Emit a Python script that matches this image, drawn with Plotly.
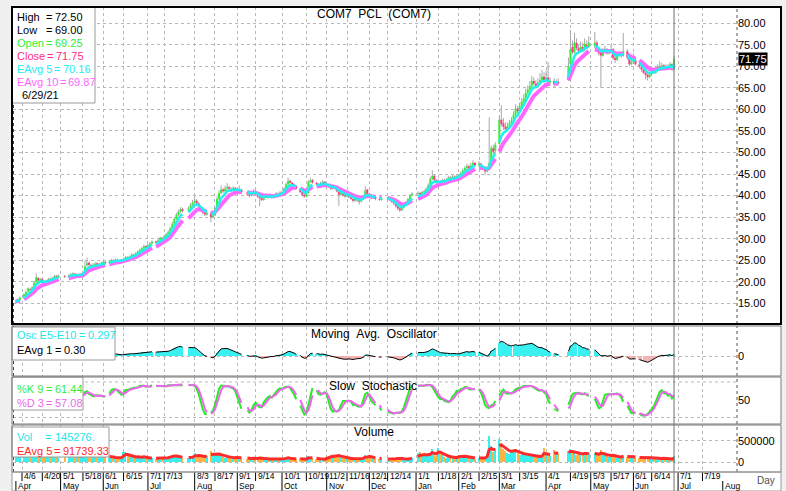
import pandas as pd
import plotly.graph_objects as go

W, H = 786, 491
def fx(px): return px / W
def fy(py): return 1 - py / H

# ---------------- data (SET: COM7, 1 Apr 2020 - 29 Jun 2021) ----------------
holidays = ['2020-04-06','2020-05-01','2020-05-04','2020-05-06','2020-06-03','2020-07-06','2020-07-27',
            '2020-07-28','2020-08-12','2020-09-04','2020-09-07','2020-10-13','2020-10-23','2020-12-07',
            '2020-12-10','2020-12-11','2020-12-31','2021-01-01','2021-02-12','2021-02-26','2021-04-06',
            '2021-04-12','2021-04-13','2021-04-14','2021-04-15','2021-05-03','2021-05-04','2021-05-26','2021-06-03']

close = [
 15.4,15.9,16.3,17.1,17.6,18.4,18.1,18.7,19.8,21.0,20.3,20.6,20.2,19.8,20.1,20.6,20.4,20.9,21.3,21.0,21.4,
 21.1,21.4,21.7,21.9,21.5,21.8,21.4,21.7,22.0,23.6,24.3,23.9,23.7,23.9,24.2,23.8,24.0,24.3,
 24.6,24.3,24.7,25.0,24.8,25.1,24.9,24.6,25.0,25.3,25.7,25.5,25.9,26.3,26.1,26.6,27.0,27.4,27.8,28.2,28.0,
 28.5,28.9,29.3,29.1,29.6,30.2,30.0,30.5,31.0,31.6,32.4,33.5,34.6,35.5,36.2,36.8,36.4,37.0,37.8,38.4,
 38.8,38.2,37.4,36.6,36.0,35.6,36.0,35.0,35.4,37.0,39.2,40.6,41.4,41.0,41.6,42.0,41.6,41.2,41.8,41.4,
 41.0,41.4,40.8,40.3,40.0,40.6,41.0,40.6,39.8,39.4,39.0,39.6,40.1,39.6,40.0,39.5,40.0,40.4,40.2,40.7,
 40.8,41.6,42.6,43.4,43.0,42.6,42.2,41.6,40.8,40.2,39.8,40.6,43.2,43.6,43.0,42.6,42.2,42.8,43.2,42.6,
 42.4,42.0,41.6,42.0,41.6,41.0,40.2,40.6,40.0,39.8,40.2,39.6,39.2,38.8,39.3,38.9,38.6,39.2,39.8,41.2,40.4,
 39.8,39.4,39.6,39.2,39.0,39.3,39.4,39.0,38.6,38.2,37.6,37.0,36.6,37.2,37.8,38.4,39.2,40.0,40.4,
 40.6,40.2,40.8,41.0,41.6,42.4,43.8,44.6,43.6,43.0,43.4,43.0,43.6,43.2,43.8,44.2,43.8,44.4,44.0,44.6,
 44.4,45.2,45.8,46.4,46.8,46.2,47.0,47.6,47.0,47.4,46.8,46.2,45.6,46.0,47.6,51.0,50.2,51.8,
 57.6,56.6,56.0,55.4,56.2,56.8,57.4,58.8,60.2,59.6,60.8,61.8,62.6,63.8,64.6,65.4,66.6,66.0,65.4,66.2,66.8,67.6,66.8,
 67.4,66.2,66.6,65.8,66.4,66.0,70.0,74.0,73.25,75.5,74.25,73.5,74.5,73.75,75.25,74.5,75.5,
 75.5,74.0,73.0,72.5,73.5,74.0,73.0,73.5,74.0,72.0,71.5,72.5,73.0,72.5,73.5,72.0,70.5,71.0,
 71.5,70.5,70.0,69.25,68.5,68.0,67.5,68.25,69.0,68.5,69.5,70.0,69.75,70.25,69.5,70.0,69.75,70.5,69.25,71.75]

open_ = [
 15.2,15.5,15.8,16.5,17.0,17.7,18.3,18.2,18.8,19.9,20.9,20.2,20.6,20.1,19.8,20.2,20.7,20.4,20.8,21.4,21.0,
 21.3,21.1,21.4,21.7,21.9,21.5,21.8,21.4,21.7,22.1,23.8,24.4,23.9,23.7,23.9,24.3,23.8,24.0,
 24.3,24.6,24.4,24.7,25.0,24.8,25.1,24.9,24.6,25.0,25.3,25.7,25.5,25.9,26.3,26.1,26.6,27.0,27.4,27.8,28.3,
 28.1,28.5,28.9,29.4,29.1,29.6,30.2,30.0,30.5,31.0,31.6,32.4,33.5,34.6,35.5,36.2,36.9,36.5,37.0,37.8,
 38.4,38.8,38.2,37.4,36.6,36.0,35.6,36.0,35.0,35.4,37.0,39.2,40.6,41.4,41.0,41.6,42.0,41.6,41.2,41.8,
 41.4,41.0,41.4,40.8,40.3,40.0,40.6,41.0,40.6,39.8,39.4,39.0,39.6,40.1,39.6,40.0,39.5,40.0,40.4,40.2,
 40.6,40.8,41.6,42.6,43.4,43.0,42.6,42.2,41.6,40.8,40.2,39.8,40.6,43.2,43.6,43.0,42.6,42.2,42.8,43.2,
 42.6,42.4,42.0,41.6,42.0,41.6,41.0,40.2,40.6,40.0,39.8,40.2,39.6,39.2,38.8,39.3,38.9,38.6,39.2,39.8,41.4,
 40.4,39.8,39.4,39.6,39.2,39.0,39.3,39.4,39.0,38.6,38.2,37.6,37.0,36.6,37.2,37.8,38.4,39.2,40.0,
 40.4,40.6,40.2,40.8,41.0,41.6,42.4,43.8,44.6,43.6,43.0,43.4,43.0,43.6,43.2,43.8,44.2,43.8,44.4,44.0,
 44.6,44.4,45.2,45.8,46.4,46.8,46.2,47.0,47.6,47.0,47.4,46.8,46.2,45.6,46.0,47.8,51.0,50.4,
 52.0,57.6,56.8,56.0,55.4,56.2,56.8,57.4,58.8,60.2,59.6,60.8,61.8,62.6,63.8,64.6,65.4,66.6,66.0,65.4,66.2,66.8,67.6,
 66.8,67.4,66.2,66.6,65.8,66.4,67.0,70.5,74.5,73.25,75.5,74.25,73.5,74.5,73.75,75.0,74.5,
 74.75,75.5,74.0,73.25,72.5,73.5,74.0,73.0,73.5,74.0,72.0,71.5,72.5,73.0,72.5,73.5,72.0,70.5,
 71.0,71.5,70.5,70.0,69.25,68.5,68.0,67.5,68.25,69.0,68.5,69.5,70.0,69.75,70.25,69.5,70.0,69.75,70.5,69.25]

high = [
 15.7,16.1,16.6,17.3,17.9,18.7,18.6,18.9,20.1,21.9,21.0,20.9,20.8,20.3,20.4,20.9,20.9,21.1,21.6,21.5,21.7,
 21.6,21.7,22.0,22.2,22.0,22.0,21.9,21.9,22.2,24.9,25.6,24.7,24.2,24.3,24.6,24.5,24.4,24.7,
 24.9,24.8,24.9,25.3,25.2,25.4,25.3,25.0,25.2,25.6,26.0,25.9,26.1,26.6,26.5,26.9,27.3,27.7,28.1,28.6,28.5,
 28.8,29.2,29.6,29.5,29.9,30.5,30.4,30.8,31.3,31.9,32.8,33.9,35.0,36.0,36.7,37.3,37.2,37.5,38.3,39.0,
 40.0,39.2,38.5,37.6,36.9,36.4,36.4,36.3,35.8,37.4,39.8,41.2,42.4,41.8,42.3,42.9,42.3,41.9,42.2,42.0,
 41.8,42.3,41.6,41.1,40.6,41.0,41.5,41.3,40.8,40.1,39.6,39.9,40.5,40.3,40.4,40.3,40.3,40.8,40.7,41.0,
 41.2,41.9,43.0,44.2,43.7,43.2,42.8,42.4,41.8,41.1,40.6,40.9,43.6,44.2,43.9,43.2,42.9,43.2,43.6,43.4,
 42.9,42.7,42.3,42.3,42.2,41.8,41.2,40.9,40.8,40.3,40.5,40.4,39.8,39.4,39.6,39.6,39.2,39.5,40.1,42.2,41.6,
 40.6,40.2,39.9,39.8,39.5,39.6,39.7,39.6,39.2,38.8,38.4,37.9,37.3,37.6,38.1,38.7,39.5,40.4,40.8,
 41.0,40.9,41.1,41.4,41.9,42.8,44.4,45.9,44.8,43.8,43.8,43.6,43.9,43.9,44.1,44.6,44.5,44.8,44.7,45.0,
 45.0,45.6,46.3,46.8,47.4,47.2,47.6,48.2,47.8,48.0,47.6,47.0,46.4,46.4,58.2,51.6,51.8,52.4,
 58.5,61.0,58.0,57.0,57.0,57.6,58.2,59.6,61.2,60.8,61.6,62.6,63.6,64.8,65.6,66.6,67.8,67.4,66.8,67.2,68.4,69.2,68.6,
 69.0,71.0,67.4,67.2,67.0,67.2,72.0,78.5,76.0,77.75,76.5,75.0,75.75,75.5,76.5,76.0,77.0,
 78.0,76.0,74.5,74.0,74.25,74.75,74.25,74.0,75.0,74.25,72.5,73.0,73.5,73.5,77.75,74.0,72.5,71.75,
 73.0,72.0,71.0,70.25,69.75,69.0,68.5,68.75,69.5,69.25,70.0,70.5,71.25,70.75,70.5,70.5,70.5,71.0,70.75,72.5]

low = [
 15.0,15.3,15.6,16.3,16.8,17.5,17.8,18.0,18.6,19.7,20.0,20.0,20.0,19.5,19.6,20.0,20.2,20.2,20.6,20.8,20.8,
 20.9,21.0,21.3,21.5,21.3,21.4,21.2,21.3,21.6,22.0,23.5,23.6,23.4,23.5,23.7,23.6,23.6,23.8,
 24.1,24.1,24.2,24.5,24.6,24.6,24.7,24.4,24.4,24.8,25.1,25.3,25.3,25.7,25.9,25.9,26.4,26.8,27.2,27.6,27.8,
 27.9,28.3,28.7,28.9,28.9,29.4,29.8,29.8,30.3,30.8,31.4,32.2,33.2,34.3,35.2,35.9,36.1,36.2,36.8,37.5,
 38.0,37.9,37.1,36.3,35.7,35.3,35.3,33.8,34.8,35.2,36.8,38.9,40.3,40.6,40.8,41.3,41.2,40.8,40.9,41.0,
 40.6,40.8,40.5,39.9,39.6,39.8,40.3,40.3,39.5,37.5,38.7,38.8,39.4,39.3,39.4,39.2,39.3,39.8,40.0,40.0,
 40.4,40.6,41.4,42.4,42.8,42.4,42.0,41.4,40.6,39.8,39.5,39.6,40.4,42.9,42.8,42.4,41.9,42.0,42.6,42.3,
 42.1,41.8,41.3,41.4,41.4,40.8,37.6,40.0,39.8,39.5,39.6,39.4,39.0,38.4,38.6,38.6,37.9,38.4,39.0,39.6,40.2,
 39.6,39.2,39.2,38.9,38.8,38.8,39.0,38.8,38.3,37.9,37.2,36.6,36.2,36.4,37.0,37.6,38.2,39.0,39.8,
 40.0,39.9,40.0,40.5,40.8,41.4,42.2,43.6,43.4,42.8,42.8,42.7,42.8,43.0,43.0,43.6,43.6,43.6,43.8,43.8,
 44.0,44.2,45.0,45.5,46.2,45.9,46.0,46.8,46.8,46.8,46.5,45.9,44.8,45.4,45.8,47.6,49.6,50.0,
 51.8,56.0,55.2,54.6,55.0,55.8,56.4,57.0,58.4,59.0,59.4,60.4,61.4,62.2,63.4,64.2,65.0,65.6,64.8,65.0,65.8,66.4,66.2,
 66.4,65.8,65.8,65.2,65.6,65.6,66.6,70.0,72.75,73.0,73.75,73.0,73.25,73.25,73.5,74.0,74.25,
 74.25,73.75,72.5,65.0,72.25,73.0,72.75,72.75,73.25,71.5,70.75,71.25,72.25,72.0,72.25,71.5,70.0,70.25,
 70.5,70.25,69.5,68.75,68.25,67.0,66.75,67.25,68.0,68.25,68.25,69.25,69.5,69.5,69.25,69.25,69.5,69.5,69.0,69.0]

volume_k = [
 260,240,210,280,230,300,220,250,310,380,270,230,210,190,180,220,200,190,230,210,180,
 170,160,150,180,140,150,130,140,160,320,290,210,170,160,180,150,140,170,
 150,120,110,140,100,90,120,80,110,230,250,180,140,120,90,110,130,100,120,140,90,
 80,90,110,70,90,100,80,90,110,120,150,180,160,140,120,110,90,100,130,110,
 220,180,150,140,120,130,150,260,200,180,210,190,150,120,110,130,100,90,110,100,
 110,130,90,80,70,90,100,80,90,120,80,70,90,60,70,80,60,70,80,90,
 70,90,110,130,80,70,60,70,90,80,60,70,150,130,90,70,60,70,80,60,
 120,150,170,160,140,180,160,120,100,90,80,90,70,80,70,60,80,90,110,180,130,
 160,110,90,80,70,80,60,70,80,70,90,100,110,80,70,60,80,100,90,
 210,240,180,200,150,170,220,300,200,150,330,220,160,130,110,120,100,110,90,100,
 170,160,150,140,120,100,90,110,80,100,90,80,110,200,620,380,250,300,
 540,450,300,260,220,200,240,260,300,220,180,200,160,170,150,140,160,130,120,140,130,150,330,
 180,200,150,280,220,200,260,300,240,220,180,190,200,170,230,190,210,
 220,180,150,280,200,160,140,130,150,170,130,120,110,100,180,120,140,110,
 130,110,90,100,80,90,120,100,110,90,80,100,90,80,110,90,80,70,60,145.276]

day_ticks = ['2020-04-06','2020-04-20','2020-05-01','2020-05-18','2020-06-01','2020-06-15','2020-07-01',
             '2020-07-13','2020-08-03','2020-08-17','2020-09-01','2020-09-14','2020-10-01','2020-10-19',
             '2020-11-02','2020-11-16','2020-12-01','2020-12-14','2021-01-01','2021-01-18','2021-02-01',
             '2021-02-15','2021-03-01','2021-03-15','2021-04-01','2021-04-19','2021-05-03','2021-05-17',
             '2021-06-01','2021-06-14','2021-07-01','2021-07-19']
day_labels = ['4/6','4/20','5/1','5/18','6/1','6/15','7/1','7/13','8/3','8/17','9/1','9/14','10/1','10/19',
              '11/2','11/16','12/1','12/14','1/1','1/18','2/1','2/15','3/1','3/15','4/1','4/19','5/3','5/17',
              '6/1','6/14','7/1','7/19']
month_ticks = ['2020-04-01','2020-05-01','2020-06-01','2020-07-01','2020-08-03','2020-09-01','2020-10-01',
               '2020-11-02','2020-12-01','2021-01-01','2021-02-01','2021-03-01','2021-04-01','2021-05-03',
               '2021-06-01','2021-07-01','2021-08-02']
month_labels = ['Apr','May','Jun','Jul','Aug','Sep','Oct','Nov','Dec','Jan','Feb','Mar','Apr','May','Jun','Jul','Aug']
price_ticks = [15, 20, 25, 30, 35, 40, 45, 50, 55, 60, 65, 70, 75, 80]

# ---------------- trading-calendar axis (weekday slots, holidays left empty) ----------------
cal = pd.bdate_range('2020-04-01', '2021-08-31')
pos = {d.strftime('%Y-%m-%d'): i for i, d in enumerate(cal)}
all_days = pd.bdate_range('2020-04-01', '2021-06-29')
hol = set(holidays)
trade_days = [d for d in all_days if d.strftime('%Y-%m-%d') not in hol]
df = pd.DataFrame({'o': open_, 'h': high, 'l': low, 'c': close,
                   'v': [v * 1000 for v in volume_k]}, index=pd.DatetimeIndex(trade_days))
df['e5'] = df['c'].ewm(span=5, adjust=False).mean()
df['e10'] = df['c'].ewm(span=10, adjust=False).mean()
df['osc'] = df['e5'] - df['e10']
hh = df['h'].rolling(9, min_periods=1).max()
ll = df['l'].rolling(9, min_periods=1).min()
fastk = 100 * (df['c'] - ll) / (hh - ll)
df['k'] = fastk.rolling(3, min_periods=1).mean()
df['d'] = df['k'].rolling(3, min_periods=1).mean()
df['ve'] = df['v'].ewm(span=5, adjust=False).mean()
full = df.reindex(all_days)
xs = [pos[d.strftime('%Y-%m-%d')] for d in all_days]
def L(col):
    return [None if pd.isna(v) else float(v) for v in full[col]]

tx = [pos[d.strftime('%Y-%m-%d')] for d in trade_days]
wx, wy, ux, uy, dx, dy = [], [], [], [], [], []
for p, o, h, l, c in zip(tx, open_, high, low, close):
    wx += [p, p, None]; wy += [l, h, None]
    if c >= o:
        ux += [p, p, None]; uy += [o, c, None]
    else:
        dx += [p, p, None]; dy += [o, c, None]

fig = go.Figure()
fig.add_trace(go.Scatter(x=wx, y=wy, mode='lines', line=dict(color='#a8a8a8', width=1), xaxis='x', yaxis='y'))
fig.add_trace(go.Scatter(x=ux, y=uy, mode='lines', line=dict(color='#33ee33', width=2), xaxis='x', yaxis='y'))
fig.add_trace(go.Scatter(x=dx, y=dy, mode='lines', line=dict(color='#ff3388', width=2), xaxis='x', yaxis='y'))
fig.add_trace(go.Scatter(x=xs, y=L('e10'), mode='lines', line=dict(color='#ff66ff', width=4), xaxis='x', yaxis='y'))
fig.add_trace(go.Scatter(x=xs, y=L('e5'), mode='lines', line=dict(color='#22eeee', width=2.5), xaxis='x', yaxis='y'))
osc = L('osc')
fig.add_trace(go.Bar(x=xs, y=osc, width=0.55,
                     marker=dict(color=['#f4b4b4' if (v is not None and v < 0) else '#3af0f0' for v in osc], line=dict(width=0)),
                     xaxis='x2', yaxis='y2'))
fig.add_trace(go.Scatter(x=xs, y=osc, mode='lines', line=dict(color='black', width=1), xaxis='x2', yaxis='y2'))
fig.add_trace(go.Scatter(x=xs, y=L('k'), mode='lines', line=dict(color='#22ee22', width=2), xaxis='x3', yaxis='y3'))
fig.add_trace(go.Scatter(x=xs, y=L('d'), mode='lines', line=dict(color='#ee66ee', width=2), xaxis='x3', yaxis='y3'))
vcol = ['#3aeeee' if c >= o else '#ffb545' for o, c in zip(open_, close)]
fig.add_trace(go.Bar(x=tx, y=list(df['v']), width=0.6, marker=dict(color=vcol, line=dict(width=0)),
                     xaxis='x4', yaxis='y4'))
fig.add_trace(go.Scatter(x=xs, y=L('ve'), mode='lines', line=dict(color='#ff2a2a', width=3), xaxis='x4', yaxis='y4'))

FONT = 'Liberation Sans, Arial, sans-serif'
day_pos = [pos[d] for d in day_ticks]
month_pos = [pos[d] for d in month_ticks]
last_pos = pos['2021-06-29']
xr = [-1.43, 355.0]
def xax(anchor):
    return dict(type='linear', range=xr, tickvals=day_pos,
                showticklabels=False, showgrid=True, gridcolor='#b8b8b8', griddash='dot', gridwidth=1,
                zeroline=False, showline=False, ticks='', ticklen=0, automargin=False,
                domain=[fx(13), fx(737)], anchor=anchor)
def yax(dom, rng, tv, tt, anchor, grid=True):
    return dict(domain=[fy(dom[1]), fy(dom[0])], range=rng, side='right', tickvals=tv, ticktext=tt,
                showgrid=grid, gridcolor='#b8b8b8', griddash='dot', gridwidth=1, zeroline=False,
                showline=False, ticks='', ticklen=0, automargin=False,
                tickfont=dict(family=FONT, size=11, color='black'), anchor=anchor)

ya = yax((7, 324), [10.19, 83.78], price_ticks, ['%.2f' % v for v in price_ticks], 'x')
y2 = yax((327, 376), [-3.33, 4.83], [0], ['0'], 'x2')
y3 = yax((377, 424), [-18.3, 114.1], [50], ['50'], 'x3', grid=False)
y4 = yax((425, 472), [-224537, 863426], [0, 500000], ['0', '500000'], 'x4')

shapes = []
def rect(x0, y0, x1, y1, fill=None, line='black', lw=1, layer='above'):
    shapes.append(dict(type='rect', xref='paper', yref='paper', x0=fx(x0), x1=fx(x1), y0=fy(y1), y1=fy(y0),
                       fillcolor=fill if fill else 'rgba(0,0,0,0)', line=dict(color=line, width=lw), layer=layer))
def vline(x, y0, y1, color='#555', dash='dot', lw=1):
    shapes.append(dict(type='line', xref='paper', yref='paper', x0=fx(x), x1=fx(x), y0=fy(y1), y1=fy(y0),
                       line=dict(color=color, width=lw, dash=dash), layer='above'))

panels = [(7, 324), (326, 376), (377, 424), (425, 472)]
for (a, b) in panels:
    rect(12, a, 781, b, fill='white', line='rgba(0,0,0,0)', lw=0, layer='below')
rect(12, 472, 781, 491, fill='white', line='rgba(0,0,0,0)', lw=0, layer='below')
for (a, b) in panels:
    vline(737, a, b)
    vline(13.5, a, b, color='#444')
for v in (0, 100):
    shapes.append(dict(type='line', xref='paper', yref='y3', x0=fx(13), x1=fx(737), y0=v, y1=v,
                       line=dict(color='#b8b8b8', width=1, dash='dot'), layer='below'))
shapes.append(dict(type='line', xref='x', yref='paper', x0=last_pos, x1=last_pos, y0=0, y1=fy(7),
                   line=dict(color='#707070', width=1), layer='above'))
for p in day_pos:
    shapes.append(dict(type='line', xref='x', yref='paper', x0=p, x1=p, y0=fy(481), y1=fy(472),
                       line=dict(color='black', width=1), layer='above'))
for p in month_pos:
    shapes.append(dict(type='line', xref='x', yref='paper', x0=p, x1=p, y0=fy(491), y1=fy(481),
                       line=dict(color='black', width=1), layer='above'))
rect(12, 7, 95, 103, fill='white', line='#9a9a9a')
rect(12, 327, 115, 360, fill='white', line='#9a9a9a')
rect(12, 377, 83, 410, fill='white', line='#9a9a9a')
rect(12, 427, 109, 457, fill='white', line='#9a9a9a')
rect(12, 7, 781, 324, line='black', lw=2)
for (a, b) in panels[1:]:
    rect(12, a, 781, b, line='#7a7a7a', lw=1)
rect(12, 472, 781, 491, line='#9a9a9a', lw=1)

ann = []
def txt(x, y, s, color='black', size=11, anchor='left'):
    ann.append(dict(xref='paper', yref='paper', x=fx(x), y=fy(y), text=s, showarrow=False,
                    xanchor=anchor, yanchor='middle', font=dict(family=FONT, size=size, color=color)))
NB = '\u00a0'
rows = [('High', '=', '72.50', 'black', 17, 44, 53), ('Low', '=', '69.00', 'black', 30, 44, 53),
        ('Open', '=', '69.25', '#33ee33', 43, 44, 53), ('Close', '=', '71.75', '#ff2a7f', 56, 45, 54),
        ('EAvg' + NB + '5', '=', '70.16', '#22eeee', 69, 52, 61),
        ('EAvg' + NB + '10', '=', '69.87', '#ff66ff', 82, 58, 66)]
for lab, eq, val, col, y, xe, xv in rows:
    txt(15, y, lab, col); txt(xe, y, eq, col); txt(xv, y, val, col)
txt(20, 95, '6/29/21')
txt(15, 335, 'Osc' + NB + 'E5-E10', '#22e5e5'); txt(77, 335, '=', '#22e5e5'); txt(86, 335, '0.297', '#22e5e5')
txt(15, 350, 'EAvg' + NB + '1', 'black'); txt(53, 350, '=', 'black'); txt(62, 350, '0.30', 'black')
txt(15, 389, '%K' + NB + '9', '#33ee33'); txt(44, 389, '=', '#33ee33'); txt(53, 389, '61.44', '#33ee33')
txt(15, 403, '%D' + NB + '3', '#ee66ee'); txt(44, 403, '=', '#ee66ee'); txt(53, 403, '57.08', '#ee66ee')
txt(15, 437, 'Vol', '#22e5e5'); txt(43, 437, '=', '#22e5e5'); txt(53, 437, '145276.', '#22e5e5')
txt(15, 451, 'EAvg' + NB + '5', '#ff2a2a'); txt(52, 451, '=', '#ff2a2a'); txt(61, 451, '91739.33', '#ff2a2a')
txt(374, 14, 'COM7' + NB * 2 + 'PCL' + NB * 2 + '(COM7)', size=12, anchor='center')
txt(374, 334, 'Moving' + NB * 2 + 'Avg.' + NB * 2 + 'Oscillator', size=12, anchor='center')
txt(373, 386, 'Slow' + NB * 2 + 'Stochastic', size=12, anchor='center')
txt(374, 432, 'Volume', size=12, anchor='center')
txt(766, 480, 'Day', '#505050', size=10, anchor='center')
for p, s in zip(day_pos, day_labels):
    ann.append(dict(xref='x', yref='paper', x=p, y=fy(476), text=s, showarrow=False, xanchor='left',
                    yanchor='middle', xshift=1, borderpad=0, font=dict(family=FONT, size=8.5, color='black')))
for p, s in zip(month_pos, month_labels):
    ann.append(dict(xref='x', yref='paper', x=p, y=fy(486), text=s, showarrow=False, xanchor='left',
                    yanchor='middle', xshift=1, borderpad=0, font=dict(family=FONT, size=8.5, color='black')))
ann.append(dict(xref='paper', yref='y', x=fx(737.5), y=71.75, text='71.75', showarrow=False, xanchor='left',
                yanchor='middle', bgcolor='black', borderpad=0, font=dict(family=FONT, size=11, color='white')))

fig.update_layout(width=W, height=H, margin=dict(l=0, r=0, t=0, b=0, autoexpand=False), showlegend=False,
                  paper_bgcolor='#f0f0f0', plot_bgcolor='rgba(0,0,0,0)', bargap=0, hovermode=False,
                  xaxis=xax('y'), xaxis2=xax('y2'), xaxis3=xax('y3'), xaxis4=xax('y4'),
                  yaxis=ya, yaxis2=y2, yaxis3=y3, yaxis4=y4, shapes=shapes, annotations=ann)
fig.write_html('out.html', config={'displayModeBar': False},
               post_script="document.body.style.margin='0px';document.body.style.padding='0px';"
                           "document.body.style.overflow='hidden';")
